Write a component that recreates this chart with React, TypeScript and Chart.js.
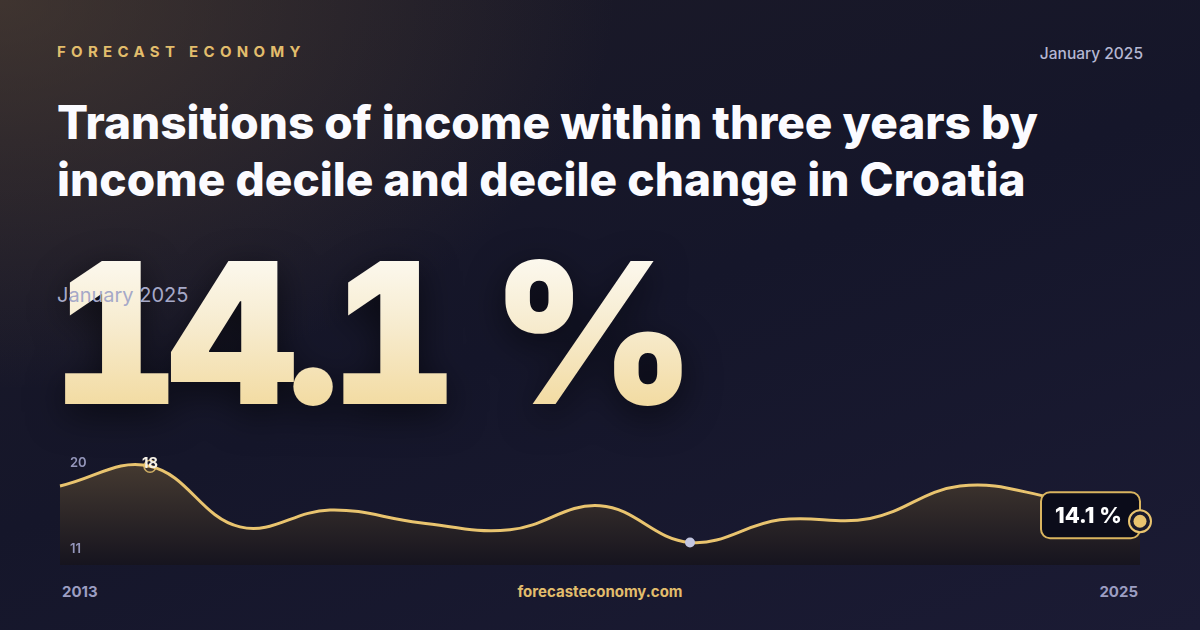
import { useEffect, useRef } from "react";
import { Chart, registerables, Plugin } from "chart.js";

Chart.register(...registerables);

const years = ["2013", "2014", "2015", "2016", "2017", "2018", "2019", "2020", "2021", "2022", "2023", "2024", "2025"];
const shares = [16.6, 18.0, 13.7, 14.9, 14.0, 13.5, 15.2, 12.6, 14.2, 14.3, 16.6, 15.8, 14.1];
const axisRange = [11, 20];

const GOLD = "#e9c46f";
const FONT = "Inter, 'Noto Sans', sans-serif";

const markers: Plugin<"line"> = {
  id: "markers",
  afterDatasetsDraw(chart) {
    const { ctx, chartArea, scales } = chart;
    const pts = chart.getDatasetMeta(0).data;
    const vals = chart.data.datasets[0].data as number[];
    ctx.save();

    // scale range labels inside the plot
    ctx.fillStyle = "#9496bb";
    ctx.font = `600 13px ${FONT}`;
    ctx.textAlign = "left";
    ctx.textBaseline = "alphabetic";
    ctx.fillText(String(scales.y.max), chartArea.left + 10, chartArea.top + 29);
    ctx.fillText(String(scales.y.min), chartArea.left + 10, chartArea.bottom - 12);

    let iMax = 0;
    let iMin = 0;
    vals.forEach((v, i) => {
      if (v > vals[iMax]) iMax = i;
      if (v < vals[iMin]) iMin = i;
    });

    // max point
    const pMax = pts[iMax];
    ctx.beginPath();
    ctx.arc(pMax.x, pMax.y, 6, 0, Math.PI * 2);
    ctx.strokeStyle = "rgba(233,196,111,0.85)";
    ctx.lineWidth = 1.5;
    ctx.stroke();
    ctx.fillStyle = "#f6f1e6";
    ctx.font = `700 15px ${FONT}`;
    ctx.textAlign = "center";
    ctx.fillText(String(vals[iMax]), pMax.x, pMax.y + 2);

    // min point
    const pMin = pts[iMin];
    ctx.beginPath();
    ctx.arc(pMin.x, pMin.y, 5, 0, Math.PI * 2);
    ctx.fillStyle = "#c3c6e0";
    ctx.fill();

    // last point with value box
    const last = pts[pts.length - 1];
    const bw = 99;
    const bh = 46;
    const bx = last.x - bw;
    const by = last.y - 29;
    ctx.beginPath();
    ctx.roundRect(bx, by, bw, bh, 9);
    ctx.fillStyle = "#0b0c1a";
    ctx.fill();
    ctx.strokeStyle = "#d9b45f";
    ctx.lineWidth = 2;
    ctx.stroke();
    ctx.fillStyle = "#ffffff";
    ctx.font = `800 22px ${FONT}`;
    ctx.textAlign = "center";
    ctx.textBaseline = "middle";
    ctx.fillText(`${vals[vals.length - 1]} %`, bx + bw / 2 - 2, by + bh / 2 + 1);

    ctx.beginPath();
    ctx.arc(last.x, last.y, 11, 0, Math.PI * 2);
    ctx.fillStyle = "#1a1a2c";
    ctx.fill();
    ctx.strokeStyle = GOLD;
    ctx.lineWidth = 2;
    ctx.stroke();
    ctx.beginPath();
    ctx.arc(last.x, last.y, 6.5, 0, Math.PI * 2);
    ctx.fillStyle = GOLD;
    ctx.fill();
    ctx.restore();
  },
};

function TrendChart() {
  const canvasRef = useRef<HTMLCanvasElement | null>(null);
  useEffect(() => {
    if (!canvasRef.current) return;
    const chart = new Chart(canvasRef.current, {
      type: "line",
      data: {
        labels: years,
        datasets: [
          {
            data: shares,
            borderColor: GOLD,
            borderWidth: 3,
            tension: 0.4,
            pointRadius: 0,
            fill: "start",
            clip: false as any,
            backgroundColor: (c: any) => {
              const area = c.chart.chartArea;
              if (!area) return "rgba(70,58,46,0.7)";
              const g = c.chart.ctx.createLinearGradient(0, area.top, 0, area.bottom);
              g.addColorStop(0, "rgba(84,70,54,0.95)");
              g.addColorStop(1, "rgba(22,20,30,0.95)");
              return g;
            },
          },
        ],
      },
      options: {
        responsive: false,
        animation: false,
        layout: { padding: { left: 20, right: 20, top: 18, bottom: 15 } },
        plugins: { legend: { display: false }, tooltip: { enabled: false } },
        scales: {
          x: { display: false, offset: false },
          y: { display: false, min: axisRange[0], max: axisRange[1] },
        },
      },
      plugins: [markers],
    });
    return () => chart.destroy();
  }, []);
  return <canvas ref={canvasRef} width={1120} height={160} />;
}

export default function App() {
  const abs = (o: React.CSSProperties): React.CSSProperties => ({ position: "absolute", lineHeight: 1, margin: 0, fontFamily: FONT, ...o });
  return (
    <div
      style={{
        position: "absolute",
        left: 0,
        top: 0,
        width: 1200,
        height: 630,
        overflow: "hidden",
        background:
          "radial-gradient(ellipse 820px 520px at 0% 0%, rgba(92,74,56,0.55), rgba(92,74,56,0) 75%), linear-gradient(160deg, #1c1a26 0%, #15162a 50%, #1b1b34 100%)",
      }}
    >
      <div style={abs({ left: 57, top: 44, fontSize: 15, fontWeight: 700, letterSpacing: 5.3, color: "#e2bd6c" })}>FORECAST ECONOMY</div>
      <div style={abs({ right: 57, top: 46, fontSize: 15.5, fontWeight: 500, color: "#b5b7d3" })}>January 2025</div>
      <div style={abs({ left: 57, top: 94, fontSize: 46, lineHeight: "57px", fontWeight: 800, color: "#fbfbff", width: 1100 })}>
        Transitions of income within three years by
        <br />
        income decile and decile change in Croatia
      </div>
      <div
        style={abs({
          left: 52,
          top: 235,
          fontSize: 196,
          fontWeight: 900,
          letterSpacing: -9,
          whiteSpace: "pre",
          fontVariantNumeric: "tabular-nums",
          background: "linear-gradient(180deg, #fefdf9 0%, #f7ecd0 45%, #f1d694 100%)",
          WebkitBackgroundClip: "text",
          backgroundClip: "text",
          color: "transparent",
          filter: "drop-shadow(0 10px 18px rgba(0,0,0,0.55))",
        })}
      >
        14.1 %
      </div>
      <div style={abs({ left: 57, top: 285, fontSize: 20, fontWeight: 400, color: "#a6a9c8" })}>January 2025</div>
      <div style={{ position: "absolute", left: 40, top: 420 }}>
        <TrendChart />
      </div>
      <div style={abs({ left: 62, top: 584, fontSize: 15, fontWeight: 700, color: "#9c9ec2" })}>2013</div>
      <div style={abs({ left: 0, width: 1200, textAlign: "center", top: 584, fontSize: 15, fontWeight: 700, color: "#e2bd6c" })}>forecasteconomy.com</div>
      <div style={abs({ right: 62, top: 584, fontSize: 15, fontWeight: 700, color: "#9c9ec2" })}>2025</div>
    </div>
  );
}
